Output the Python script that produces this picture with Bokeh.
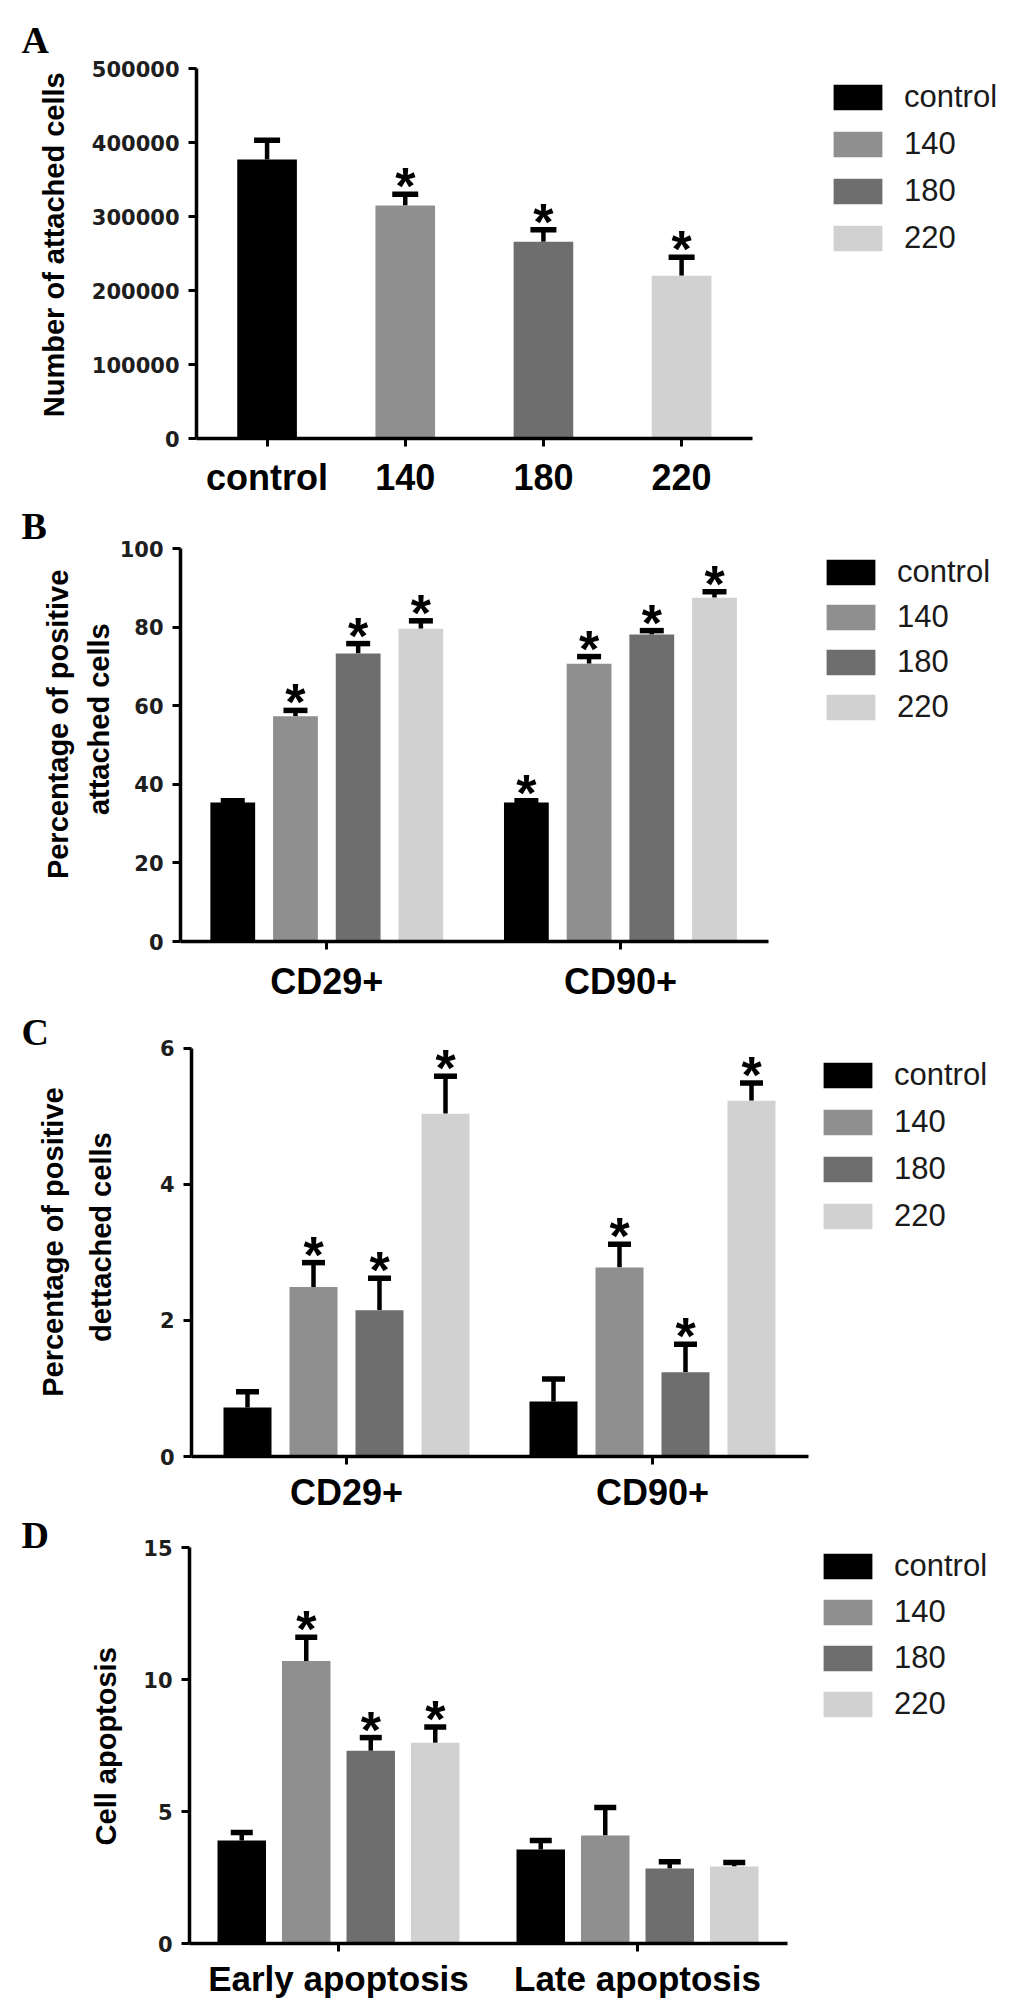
import math

from bokeh.core.properties import value
from bokeh.embed import file_html
from bokeh.layouts import column, row
from bokeh.models import (BasicTickFormatter, ColumnDataSource, FixedTicker, Label,
                          Range1d, TeeHead, Whisker)
from bokeh.plotting import figure
from bokeh.resources import INLINE

series = ["control", "140", "180", "220"]
colors = ["#000000", "#8f8f8f", "#6e6e6e", "#d1d1d1"]

# A - number of attached cells (one bar per category)
a_labels = ["control", "140", "180", "220"]
a_mean = [377000, 315000, 266000, 220000]
a_err = [26000, 15000, 16000, 25000]
a_star = [0, 1, 1, 1]

# B - percentage of positive attached cells
b_labels = ["CD29+", "CD90+"]
b_cd29_mean = [35.4, 57.3, 73.3, 79.6]
b_cd29_err = [0.4, 1.5, 2.5, 2.0]
b_cd29_star = [0, 1, 1, 1]
b_cd90_mean = [35.4, 70.7, 78.1, 87.5]
b_cd90_err = [0.4, 1.8, 1.0, 1.5]
b_cd90_star = [1, 1, 1, 1]

# C - percentage of positive detached cells
c_labels = ["CD29+", "CD90+"]
c_cd29_mean = [0.72, 2.49, 2.15, 5.04]
c_cd29_err = [0.23, 0.36, 0.47, 0.55]
c_cd29_star = [0, 1, 1, 1]
c_cd90_mean = [0.81, 2.78, 1.24, 5.23]
c_cd90_err = [0.33, 0.34, 0.41, 0.26]
c_cd90_star = [0, 1, 1, 1]

# D - cell apoptosis
d_labels = ["Early apoptosis", "Late apoptosis"]
d_early_mean = [3.9, 10.7, 7.3, 7.6]
d_early_err = [0.3, 0.9, 0.5, 0.6]
d_early_star = [0, 1, 1, 1]
d_late_mean = [3.56, 4.09, 2.84, 2.92]
d_late_err = [0.34, 1.06, 0.26, 0.15]
d_late_star = [0, 0, 0, 0]

PAGE_W = 1033
SANS = "Liberation Sans"


def side_panel(cfg):
    # strip left of the y axis holding the panel letter and the y title
    w, h = cfg["side_w"], cfg["h"]
    s = figure(width=w, height=h, x_range=Range1d(0, w), y_range=Range1d(h, 0),
               x_axis_type=None, y_axis_type=None, title=None,
               min_border=0, output_backend="svg", toolbar_location=None)
    s.outline_line_color = None
    s.xgrid.visible = False
    s.ygrid.visible = False
    for line, xc, y_end in cfg["titles"]:
        # rotated text whose last letter sits at y_end
        s.add_layout(Label(x=xc, y=y_end - cfg["fig_y"], text=line, angle=math.pi / 2,
                           text_align="right", text_baseline="middle",
                           text_font=SANS, text_font_style="bold",
                           text_font_size="29px", text_color="black"))
    s.add_layout(Label(x=21, y=cfg["letter_y"] - cfg["fig_y"], text=cfg["name"],
                       text_align="left", text_baseline="middle",
                       text_font="Liberation Serif", text_font_style="bold",
                       text_font_size="38px", text_color="black"))
    return s


def make_panel(cfg, groups):
    unit = cfg["unit"]
    x_start = (cfg["left"] - cfg["first"]) / unit
    x_end = (PAGE_W - cfg["first"]) / unit
    frame_px = cfg["bottom_y"] - cfg["fig_y"]
    y_top = cfg["y_end"] * frame_px / (cfg["bottom_y"] - cfg["top_y"])
    b_bottom = cfg["fig_y"] + cfg["h"] - cfg["bottom_y"]

    p = figure(width=PAGE_W - cfg["side_w"], height=cfg["h"], title=None,
               x_range=Range1d(x_start, x_end), y_range=Range1d(0, y_top),
               min_border_left=cfg["left"] - cfg["side_w"], min_border_right=0,
               min_border_top=0, min_border_bottom=b_bottom,
               output_backend="svg", toolbar_location=None)
    p.outline_line_color = None
    p.xgrid.visible = False
    p.ygrid.visible = False

    star_x, star_y = [], []
    for s in range(4):
        xs, tops, his = [], [], []
        for g, grp in enumerate(groups):
            if s not in grp["series"]:
                continue
            k = grp["series"].index(s)
            n = len(grp["series"])
            xs.append(g + (k - (n - 1) / 2) * cfg["step"] / unit)
            tops.append(grp["mean"][k])
            his.append(grp["mean"][k] + grp["err"][k])
            if grp["star"][k]:
                star_x.append(xs[-1])
                star_y.append(his[-1])
        src = ColumnDataSource(dict(x=xs, top=tops, hi=his))
        p.vbar(x="x", top="top", width=cfg["bar_w"] / unit, source=src,
               fill_color=colors[s], line_color=None, legend_label=series[s])
        p.add_layout(Whisker(source=src, base="x", lower="top", upper="hi",
                             line_width=4.5, line_color="black", lower_head=None,
                             upper_head=TeeHead(size=cfg["cap"], line_width=5.5,
                                                line_color="black")))

    p.text(x=star_x, y=star_y, text=["*"] * len(star_x), text_font=value(SANS),
           text_font_style="bold", text_font_size="52px", text_align="center",
           text_baseline="middle", y_offset=-8, text_color="black")

    # axes
    for ax in (p.xaxis[0], p.yaxis[0]):
        ax.axis_line_width = 3.5
        ax.axis_line_color = "black"
        ax.major_tick_line_width = 3
        ax.major_tick_line_color = "black"
        ax.major_tick_out = 8
        ax.major_tick_in = 0
        ax.minor_tick_line_color = None
        ax.major_label_text_font_style = "bold"
    p.xaxis.bounds = (x_start, (cfg["axis_end"] - cfg["first"]) / unit)
    p.xaxis.ticker = FixedTicker(ticks=list(range(len(groups))))
    p.xaxis.major_label_overrides = {g: grp["label"] for g, grp in enumerate(groups)}
    p.xaxis.major_label_text_font = SANS
    p.xaxis.major_label_text_font_size = cfg["cat_size"]
    p.xaxis.major_label_text_color = "black"
    p.xaxis.major_label_standoff = cfg["cat_standoff"]
    p.yaxis.bounds = (0, cfg["y_end"])
    p.yaxis.ticker = FixedTicker(ticks=list(range(0, cfg["y_end"] + 1, cfg["y_step"])))
    p.yaxis.formatter = BasicTickFormatter(use_scientific=False)
    p.yaxis.major_label_text_font = "DejaVu Sans"
    p.yaxis.major_label_text_font_size = "21px"
    p.yaxis.major_label_text_color = "#1e1e1e"
    p.yaxis.major_label_standoff = 9

    # legend
    gh, ih = 32, 36
    leg = p.legend[0]
    leg.glyph_width = 61
    leg.glyph_height = gh
    leg.label_height = ih
    leg.spacing = int(round(cfg["leg_gap"] - ih))
    leg.padding = 0
    leg.margin = 0
    leg.border_line_color = None
    leg.background_fill_alpha = 0
    leg.label_standoff = 16
    leg.label_text_font = SANS
    leg.label_text_font_size = "31px"
    leg.label_text_color = "#1a1a1a"
    leg_h = 4 * ih + 3 * leg.spacing
    leg_top = cfg["leg_top"] - 0.1 * gh
    leg.location = (cfg["leg_x"] - 6 - cfg["left"], cfg["bottom_y"] - leg_top - leg_h)
    return row(side_panel(cfg), p, spacing=0)


def grouped(labels, means, errs, stars):
    return [dict(label=l, series=[0, 1, 2, 3], mean=m, err=e, star=s)
            for l, m, e, s in zip(labels, means, errs, stars)]


groups_a = [dict(label=a_labels[i], series=[i], mean=[a_mean[i]], err=[a_err[i]],
                 star=[a_star[i]]) for i in range(4)]
groups_b = grouped(b_labels, [b_cd29_mean, b_cd90_mean], [b_cd29_err, b_cd90_err],
                   [b_cd29_star, b_cd90_star])
groups_c = grouped(c_labels, [c_cd29_mean, c_cd90_mean], [c_cd29_err, c_cd90_err],
                   [c_cd29_star, c_cd90_star])
groups_d = grouped(d_labels, [d_early_mean, d_late_mean], [d_early_err, d_late_err],
                   [d_early_star, d_late_star])

cfg_a = dict(name="A", fig_y=0, h=500, top_y=68, bottom_y=438, left=191, first=262,
             unit=139, step=0, bar_w=60, axis_end=750, cap=26, y_end=500000,
             y_step=100000, side_w=88, titles=[("Number of attached cells", 53, 82)],
             letter_y=45, leg_x=828, leg_top=82, leg_gap=47,
             cat_size="36px", cat_standoff=10)
cfg_b = dict(name="B", fig_y=500, h=510, top_y=548, bottom_y=941, left=176, first=323,
             unit=295, step=63, bar_w=45, axis_end=767, cap=24, y_end=100, y_step=20,
             side_w=116,
             titles=[("Percentage of positive", 57, 580), ("attached cells", 98, 642)],
             letter_y=530, leg_x=822, leg_top=557, leg_gap=45,
             cat_size="36px", cat_standoff=11)
cfg_c = dict(name="C", fig_y=1010, h=505, top_y=1048, bottom_y=1458, left=191,
             first=346, unit=306, step=66, bar_w=48, axis_end=808, cap=23, y_end=6,
             y_step=2, side_w=130,
             titles=[("Percentage of positive", 52, 1097), ("dettached cells", 100, 1148)],
             letter_y=1034, leg_x=823, leg_top=1062, leg_gap=47,
             cat_size="36px", cat_standoff=7)
cfg_d = dict(name="D", fig_y=1515, h=494, top_y=1547, bottom_y=1943, left=189,
             first=338, unit=299, step=64.5, bar_w=48.5, axis_end=787, cap=22, y_end=15,
             y_step=5, side_w=140, titles=[("Cell apoptosis", 105, 1667)],
             letter_y=1537, leg_x=823, leg_top=1551, leg_gap=46,
             cat_size="35px", cat_standoff=7)

layout = column(make_panel(cfg_a, groups_a), make_panel(cfg_b, groups_b),
                make_panel(cfg_c, groups_c), make_panel(cfg_d, groups_d), spacing=0)
open("out.html", "w").write(file_html(layout, INLINE))
